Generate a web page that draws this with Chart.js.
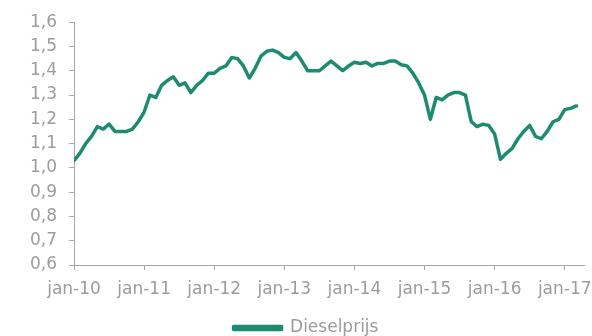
<!DOCTYPE html>
<html>
<head>
<meta charset="utf-8">
<script src="https://cdn.jsdelivr.net/npm/chart.js@4/dist/chart.umd.min.js"></script>
<style>
  html, body { margin: 0; padding: 0; background: #ffffff; overflow: hidden; }
  #wrap { width: 592px; height: 336px; position: relative; }
</style>
</head>
<body>
<div id="wrap"><canvas id="dieselChart"></canvas></div>
<script>
'use strict';

// Monthly diesel price (EUR/l), jan-10 through mar-17
const seriesLabel = 'Dieselprijs';
const prices2010 = [1.03, 1.06, 1.10, 1.13, 1.17, 1.16, 1.18, 1.15, 1.15, 1.15, 1.16, 1.19];
const prices2011 = [1.23, 1.30, 1.29, 1.34, 1.36, 1.375, 1.34, 1.35, 1.31, 1.34, 1.36, 1.39];
const prices2012 = [1.39, 1.41, 1.42, 1.455, 1.45, 1.42, 1.37, 1.41, 1.46, 1.48, 1.485, 1.475];
const prices2013 = [1.455, 1.45, 1.475, 1.44, 1.40, 1.40, 1.40, 1.42, 1.44, 1.42, 1.40, 1.42];
const prices2014 = [1.435, 1.43, 1.435, 1.42, 1.43, 1.43, 1.44, 1.44, 1.425, 1.42, 1.39, 1.35];
const prices2015 = [1.30, 1.20, 1.29, 1.28, 1.30, 1.31, 1.31, 1.30, 1.19, 1.17, 1.18, 1.175];
const prices2016 = [1.14, 1.035, 1.06, 1.08, 1.12, 1.15, 1.175, 1.13, 1.12, 1.15, 1.19, 1.20];
const prices2017 = [1.24, 1.245, 1.255];

// One tick per January, 12 months apart
const yearTickLabels = ['jan-10', 'jan-11', 'jan-12', 'jan-13', 'jan-14', 'jan-15', 'jan-16', 'jan-17'];
const MONTHS_PER_TICK = 12;

const prices = [].concat(prices2010, prices2011, prices2012, prices2013,
                         prices2014, prices2015, prices2016, prices2017);

const TEXT_COLOR = '#9c9c9c';
const AXIS_COLOR = '#a8a8a8';
const LINE_COLOR = '#1d8b70';
const FONT = { family: '"DejaVu Sans", sans-serif', size: 17 };

const ctx = document.getElementById('dieselChart').getContext('2d');

new Chart(ctx, {
    type: 'line',
    data: {
        datasets: [{
            label: seriesLabel,
            data: prices.map((price, month) => ({ x: month, y: price })),
            borderColor: LINE_COLOR,
            backgroundColor: LINE_COLOR,
            borderWidth: 3.5,
            borderJoinStyle: 'round',
            borderCapStyle: 'round',
            pointRadius: 0,
            tension: 0
        }]
    },
    options: {
        responsive: true,
        maintainAspectRatio: false,
        animation: false,
        layout: {
            padding: { top: 20, left: 28, right: 8, bottom: -10.5 }
        },
        plugins: {
            tooltip: { enabled: false },
            legend: {
                position: 'bottom',
                labels: {
                    color: TEXT_COLOR,
                    font: FONT,
                    boxWidth: 48,
                    boxHeight: 3,
                    padding: 6
                }
            }
        },
        scales: {
            x: {
                type: 'linear',
                min: 0,
                max: 87.3,
                afterFit: (scale) => {
                    scale.height = 48.5;
                    scale.paddingRight = 0;
                },
                afterBuildTicks: (scale) => {
                    scale.ticks = yearTickLabels.map((_, i) => ({ value: i * MONTHS_PER_TICK }));
                },
                ticks: {
                    color: TEXT_COLOR,
                    font: FONT,
                    padding: 9,
                    maxRotation: 0,
                    autoSkip: false,
                    callback: (value, index) => yearTickLabels[index]
                },
                grid: {
                    drawOnChartArea: false,
                    drawTicks: true,
                    tickLength: 5,
                    color: AXIS_COLOR
                },
                border: { color: AXIS_COLOR, width: 1 }
            },
            y: {
                min: 0.6,
                max: 1.6,
                afterFit: (scale) => { scale.width = 46; },
                ticks: {
                    stepSize: 0.1,
                    color: TEXT_COLOR,
                    font: FONT,
                    padding: 12,
                    callback: (value) => value.toFixed(1).replace('.', ',')
                },
                grid: {
                    drawOnChartArea: false,
                    drawTicks: true,
                    tickLength: 5,
                    color: AXIS_COLOR
                },
                border: { color: AXIS_COLOR, width: 1 }
            }
        }
    }
});
</script>
</body>
</html>
